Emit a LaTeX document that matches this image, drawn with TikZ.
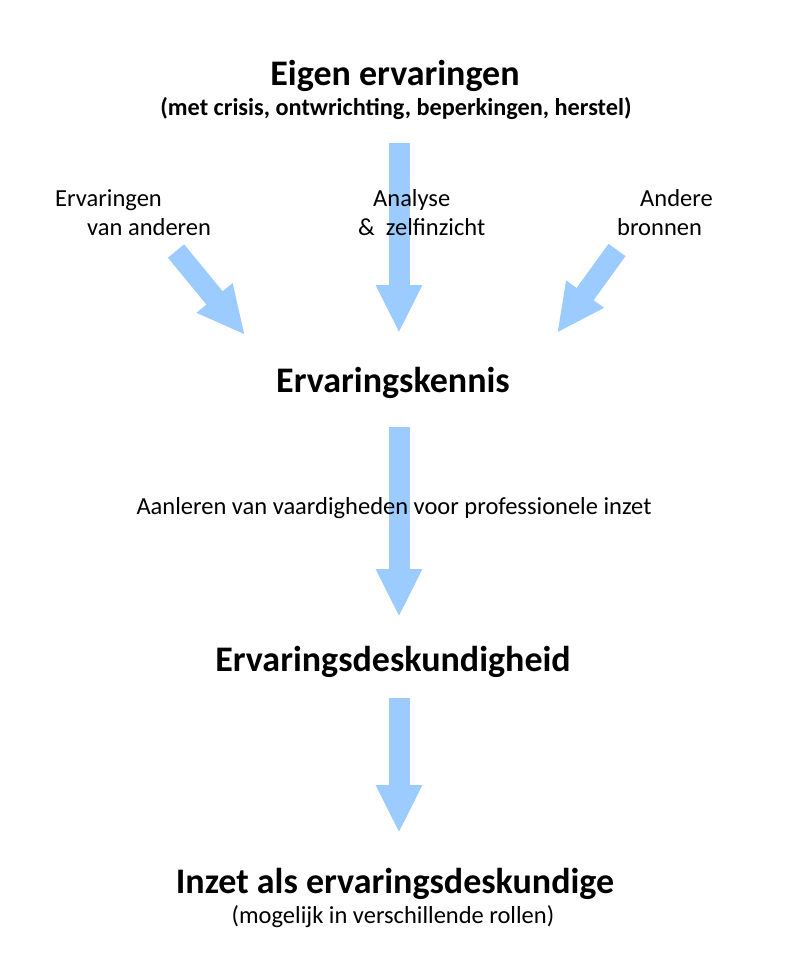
\documentclass[tikz,border=0pt]{standalone}
\usepackage{fontspec}
\setmainfont{Carlito}
\usetikzlibrary{arrows.meta}
\definecolor{arrowblue}{HTML}{9CCBFF}
\begin{document}
\begin{tikzpicture}[x=1pt,y=-1pt,
  title/.style={font=\fontsize{36}{42}\selectfont\bfseries, anchor=base, inner sep=0pt},
  subtitle/.style={font=\fontsize{24.3}{28}\selectfont\bfseries, anchor=base, inner sep=0pt},
  note/.style={font=\fontsize{24.5}{28}\selectfont, anchor=base, inner sep=0pt},
  blockarrow/.style={draw=arrowblue, line width=21pt,
    -{Triangle[width=43pt,length=48pt]}, arrowblue}
]
\useasboundingbox (0,0) rectangle (799,967);
% arrows (drawn first, text on top)
\coordinate (c1s) at (399,143);
\coordinate (c1e) at (399,333);
\coordinate (l1s) at (176,251);
\coordinate (l1e) at (245,335);
\coordinate (r1s) at (617,250);
\coordinate (r1e) at (557,333);
\coordinate (c2s) at (399,427);
\coordinate (c2e) at (399,617);
\coordinate (c3s) at (399,698);
\coordinate (c3e) at (399,833);
\draw[blockarrow] (c1s) -- (c1e);
\draw[blockarrow] (l1s) -- (l1e);
\draw[blockarrow] (r1s) -- (r1e);
\draw[blockarrow] (c2s) -- (c2e);
\draw[blockarrow] (c3s) -- (c3e);
% texts
\node[title] (eigen) at (395,85) {Eigen ervaringen};
\node[subtitle] (eigensub) at (396,115) {(met crisis, ontwrichting, beperkingen, herstel)};
\node[note, anchor=base west] (erv1) at (55,206) {Ervaringen};
\node[note, anchor=base west] (erv2) at (87,235) {van anderen};
\node[note, anchor=base west] (ana1) at (373,206) {Analyse};
\node[note, anchor=base west] (ana2) at (358,235) {\&\ \ zelfinzicht};
\node[note, anchor=base west] (and1) at (640,206) {Andere};
\node[note, anchor=base west] (and2) at (617,235) {bronnen};
\node[title] (kennis) at (393,392) {Ervaringskennis};
\node[note] (aanleren) at (394,514) {Aanleren van vaardigheden voor professionele inzet};
\node[title] (deskundig) at (393,671) {Ervaringsdeskundigheid};
\node[title] (inzet) at (395,893) {Inzet als ervaringsdeskundige};
\node[note] (rollen) at (393,923) {(mogelijk in verschillende rollen)};
\end{tikzpicture}
\end{document}
